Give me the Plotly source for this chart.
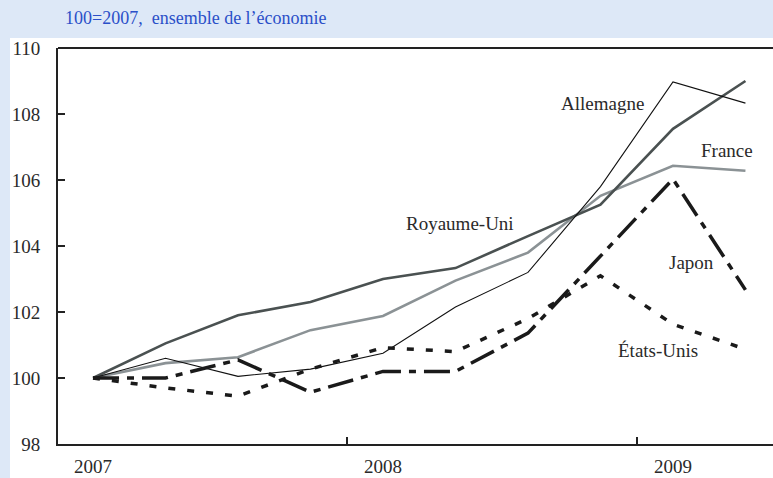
import plotly.graph_objects as go

quarters = ["2007T1", "2007T2", "2007T3", "2007T4", "2008T1", "2008T2",
            "2008T3", "2008T4", "2009T1", "2009T2"]
year_labels = ["2007", "2008", "2009"]
year_pos = [0, 4, 8]
year_bounds = [3.5, 7.5]

royaume_uni = [100.0, 101.05, 101.9, 102.3, 103.0, 103.33, 104.3, 105.25, 107.55, 109.0]
allemagne = [100.0, 100.6, 100.05, 100.27, 100.75, 102.15, 103.2, 105.8, 108.97, 108.33]
france = [100.0, 100.45, 100.63, 101.45, 101.88, 102.95, 103.8, 105.52, 106.43, 106.28]
japon = [100.0, 100.0, 100.55, 99.57, 100.2, 100.2, 101.36, 103.7, 106.03, 102.67]
etats_unis = [100.0, 99.7, 99.45, 100.27, 100.92, 100.8, 101.8, 103.1, 101.63, 100.87]

x = list(range(len(quarters)))
FONT = "Liberation Serif"
TXT = "#2a2a2a"

fig = go.Figure()
fig.add_trace(go.Scatter(x=x, y=france, mode="lines", name="France",
                         line=dict(color="#8b9295", width=2.6)))
fig.add_trace(go.Scatter(x=x, y=royaume_uni, mode="lines", name="Royaume-Uni",
                         line=dict(color="#4a5151", width=2.6)))
fig.add_trace(go.Scatter(x=x, y=allemagne, mode="lines", name="Allemagne",
                         line=dict(color="#111111", width=1.1)))
fig.add_trace(go.Scatter(x=x, y=japon, mode="lines", name="Japon",
                         line=dict(color="#1a1a1a", width=3.5, dash="26px,8px,7px,8px")))
fig.add_trace(go.Scatter(x=x, y=etats_unis, mode="lines", name="États-Unis",
                         line=dict(color="#1a1a1a", width=3.5, dash="7px,12px")))

labels = [
    ("Allemagne", 7.03, 108.33),
    ("France", 8.74, 106.9),
    ("Royaume-Uni", 5.06, 104.67),
    ("Japon", 8.25, 103.5),
    ("États-Unis", 7.79, 100.82),
]
for txt, lx, ly in labels:
    fig.add_annotation(x=lx, y=ly, text=txt, showarrow=False,
                       font=dict(family=FONT, size=19, color=TXT))

fig.add_annotation(xref="paper", yref="paper", x=(63 - 58) / 715, y=(444 - 18) / 396,
                   xanchor="left", yanchor="middle", showarrow=False,
                   text="100=2007,  ensemble de l\u2019économie",
                   font=dict(family=FONT, size=18, color="#2a4fc8"))

# white panel over light-blue page
fig.add_shape(type="rect", xref="paper", yref="paper", layer="below",
              x0=(10 - 58) / 715, x1=1.01, y0=-34 / 396 - 0.01, y1=(444 - 38) / 396,
              fillcolor="white", line=dict(width=0))
fig.add_shape(type="line", xref="paper", yref="paper", x0=0, x1=1.01, y0=1, y1=1,
              line=dict(color="#222222", width=2))

fig.update_layout(
    width=773, height=478,
    margin=dict(l=58, r=0, t=48, b=34, autoexpand=False),
    paper_bgcolor="#dde8f7",
    plot_bgcolor="white",
    showlegend=False,
    font=dict(family=FONT, size=19, color=TXT),
    xaxis=dict(range=[-0.483, 9.38], tickvals=year_pos, ticktext=year_labels,
               ticks="", showgrid=False, zeroline=False,
               showline=True, linecolor="#222222", linewidth=2, mirror=False,
               ticklabelstandoff=4,
               minor=dict(tickvals=year_bounds, ticks="inside", ticklen=7,
                          tickcolor="#222222", tickwidth=1.5),
               tickfont=dict(family=FONT, size=19, color=TXT)),
    yaxis=dict(range=[98, 110], tickvals=[98, 100, 102, 104, 106, 108, 110],
               ticks="inside", ticklen=7, tickcolor="#222222", tickwidth=1.5,
               showgrid=False, zeroline=False, showline=True,
               linecolor="#222222", linewidth=2, mirror=False,
               ticklabelstandoff=12,
               tickfont=dict(family=FONT, size=19, color=TXT)),
)

fig.write_html(
    "out.html",
    config={"displayModeBar": False},
    post_script="document.body.style.margin='0';document.body.style.overflow='hidden';",
)
